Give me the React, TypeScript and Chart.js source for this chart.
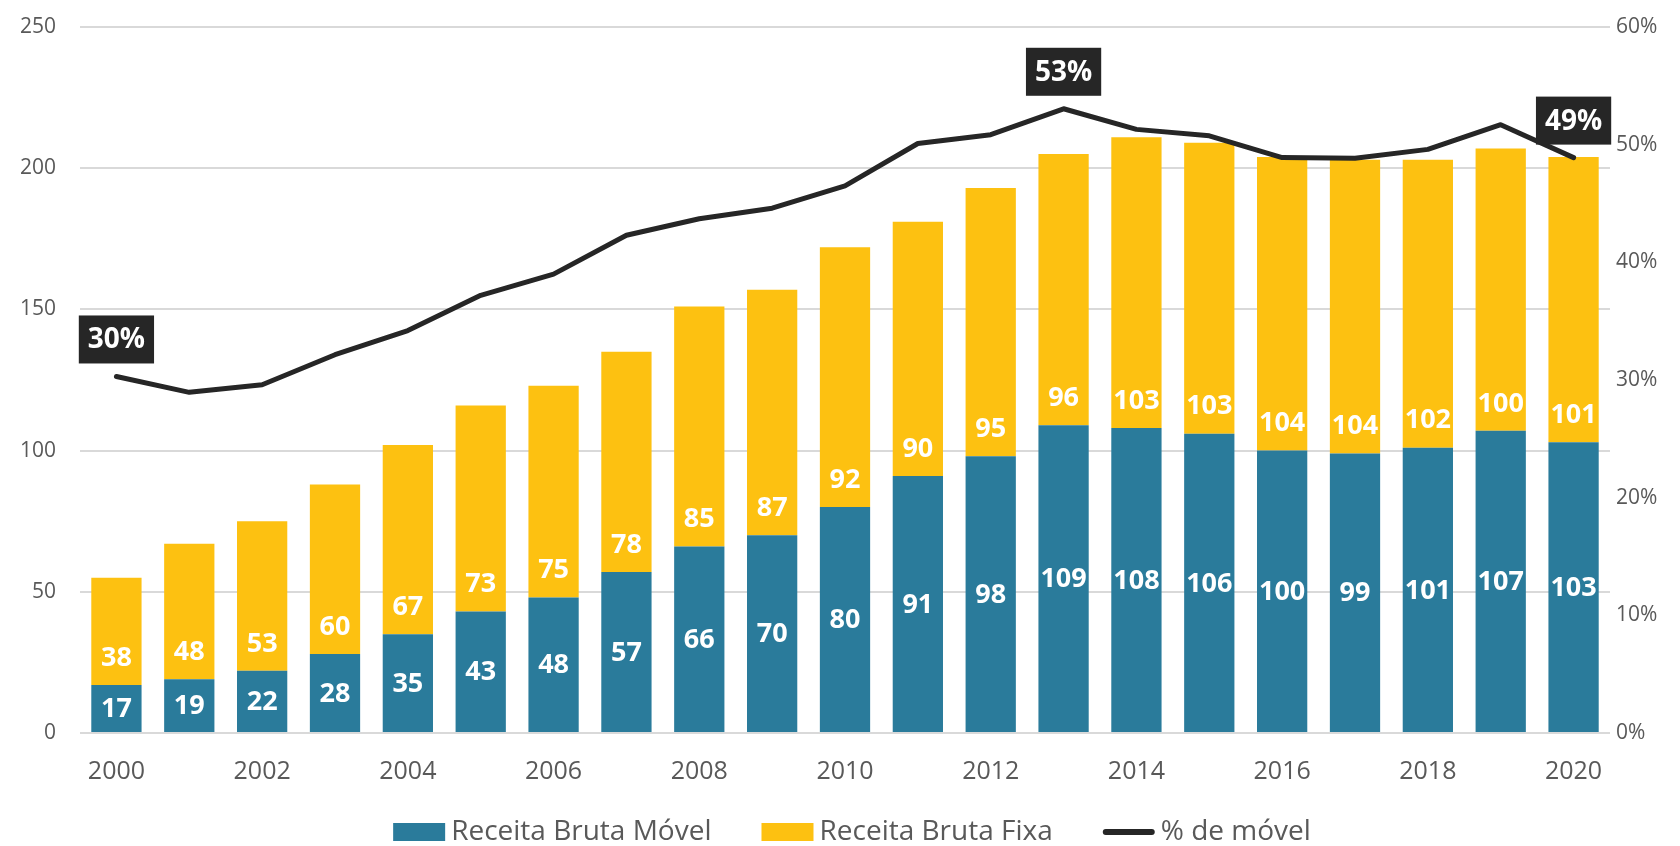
import React, { useEffect, useRef } from "react";
import { Chart, registerables } from "chart.js";

Chart.register(...registerables);

const years = [
  "2000", "2001", "2002", "2003", "2004", "2005", "2006", "2007", "2008", "2009", "2010",
  "2011", "2012", "2013", "2014", "2015", "2016", "2017", "2018", "2019", "2020",
];
const receitaMovel = [17, 19, 22, 28, 35, 43, 48, 57, 66, 70, 80, 91, 98, 109, 108, 106, 100, 99, 101, 107, 103];
const receitaFixa = [38, 48, 53, 60, 67, 73, 75, 78, 85, 87, 92, 90, 95, 96, 103, 103, 104, 104, 102, 100, 101];
const pctMovel = [
  30.3, 28.95, 29.6, 32.15, 34.2, 37.2, 39.0, 42.3, 43.7, 44.6, 46.5,
  50.1, 50.85, 53.05, 51.3, 50.75, 48.9, 48.85, 49.6, 51.7, 48.9,
];
const pctLabelIndex = [0, 13, 20];
const pctLabelText = ["30%", "53%", "49%"];
const leftTicks = [0, 50, 100, 150, 200, 250];
const rightTicks = [0, 10, 20, 30, 40, 50, 60];

const BLUE = "#2A7B9B";
const GOLD = "#FDC111";
const DARK = "#262626";
const GRID = "#D9D9D9";
const TICK = "#595959";
const FONT = "'Open Sans', 'DejaVu Sans', sans-serif";

const labelsPlugin = {
  id: "valueLabels",
  afterDatasetsDraw(chart: any) {
    const ctx = chart.ctx;
    ctx.save();
    ctx.textAlign = "center";
    ctx.textBaseline = "middle";
    ctx.fillStyle = "#FFFFFF";
    ctx.font = `bold 27px ${FONT}`;
    const m0 = chart.getDatasetMeta(0);
    m0.data.forEach((bar: any, i: number) => {
      const cy = (bar.y + bar.base) / 2;
      ctx.fillText(String(receitaMovel[i]), bar.x, cy + 1);
    });
    const m1 = chart.getDatasetMeta(1);
    m1.data.forEach((bar: any, i: number) => {
      ctx.fillText(String(receitaFixa[i]), bar.x, bar.base - 27);
    });
    const m2 = chart.getDatasetMeta(2);
    ctx.font = `bold 28px ${FONT}`;
    pctLabelIndex.forEach((idx, k) => {
      const pt = m2.data[idx];
      const txt = pctLabelText[k];
      const w = ctx.measureText(txt).width + 18;
      const h = 48;
      const bottom = pt.y - 13;
      ctx.fillStyle = DARK;
      ctx.fillRect(pt.x - w / 2, bottom - h, w, h);
      ctx.fillStyle = "#FFFFFF";
      ctx.fillText(txt, pt.x, bottom - h / 2 + 1);
    });
    ctx.restore();
  },
};

const legendPlugin = {
  id: "customLegend",
  afterDraw(chart: any) {
    const ctx = chart.ctx;
    ctx.save();
    ctx.font = `28px ${FONT}`;
    ctx.textBaseline = "middle";
    ctx.textAlign = "left";
    const items = [
      { text: "Receita Bruta Móvel", kind: "box", color: BLUE },
      { text: "Receita Bruta Fixa", kind: "box", color: GOLD },
      { text: "% de móvel", kind: "line", color: DARK },
    ];
    const boxW = 52;
    const gapText = 6;
    const gapItem = 50;
    const widths = items.map((it) => boxW + gapText + ctx.measureText(it.text).width);
    const total = widths.reduce((a, b) => a + b, 0) + gapItem * (items.length - 1);
    let x = 852 - total / 2;
    const cy = 832;
    items.forEach((it, i) => {
      if (it.kind === "box") {
        ctx.fillStyle = it.color;
        ctx.fillRect(x, cy - 9, boxW, 18);
      } else {
        ctx.strokeStyle = it.color;
        ctx.lineWidth = 6;
        ctx.lineCap = "round";
        ctx.beginPath();
        ctx.moveTo(x + 3, cy);
        ctx.lineTo(x + boxW - 3, cy);
        ctx.stroke();
      }
      ctx.fillStyle = TICK;
      ctx.fillText(it.text, x + boxW + gapText, cy);
      x += widths[i] + gapItem;
    });
    ctx.restore();
  },
};

export default function App() {
  const ref = useRef<HTMLCanvasElement | null>(null);

  useEffect(() => {
    if (!ref.current) return;
    const chart = new Chart(ref.current, {
      type: "bar",
      data: {
        labels: years,
        datasets: [
          {
            type: "bar",
            label: "Receita Bruta Móvel",
            data: receitaMovel,
            backgroundColor: BLUE,
            yAxisID: "y",
            order: 1,
            barPercentage: 0.69,
            categoryPercentage: 1,
          },
          {
            type: "bar",
            label: "Receita Bruta Fixa",
            data: receitaFixa,
            backgroundColor: GOLD,
            yAxisID: "y",
            order: 1,
            barPercentage: 0.69,
            categoryPercentage: 1,
          },
          {
            type: "line",
            label: "% de móvel",
            data: pctMovel,
            borderColor: DARK,
            borderWidth: 5,
            pointRadius: 0,
            tension: 0,
            yAxisID: "y1",
            order: 0,
            borderCapStyle: "round",
            borderJoinStyle: "round",
          } as any,
        ],
      },
      options: {
        responsive: false,
        animation: false,
        layout: { padding: { top: 27, bottom: 0, left: 0, right: 0 } },
        plugins: {
          legend: { display: false },
          tooltip: { enabled: false },
        },
        scales: {
          x: {
            stacked: true,
            grid: { display: false, drawTicks: false },
            border: { display: false },
            ticks: {
              autoSkip: false,
              maxRotation: 0,
              padding: 24,
              color: TICK,
              font: { family: FONT, size: 25 },
              callback: (_v: any, i: number) => (i % 2 === 0 ? years[i] : ""),
            },
            afterFit: (s: any) => {
              s.height = 113;
              s.paddingLeft = 0;
              s.paddingRight = 0;
            },
          },
          y: {
            stacked: true,
            position: "left",
            min: leftTicks[0],
            max: leftTicks[leftTicks.length - 1],
            afterBuildTicks: (s: any) => {
              s.ticks = leftTicks.map((v) => ({ value: v }));
            },
            grid: { color: GRID, lineWidth: 2, drawTicks: false },
            border: { display: false },
            ticks: {
              padding: 24,
              color: TICK,
              font: { family: FONT, size: 21 },
            },
            afterFit: (s: any) => {
              s.width = 80;
              s.paddingTop = 0;
              s.paddingBottom = 0;
            },
          },
          y1: {
            position: "right",
            min: rightTicks[0],
            max: rightTicks[rightTicks.length - 1],
            afterBuildTicks: (s: any) => {
              s.ticks = rightTicks.map((v) => ({ value: v }));
            },
            grid: { display: false, drawTicks: false },
            border: { display: false },
            ticks: {
              padding: 6,
              color: TICK,
              font: { family: FONT, size: 21 },
              callback: (v: any) => `${v}%`,
            },
            afterFit: (s: any) => {
              s.width = 70;
              s.paddingTop = 0;
              s.paddingBottom = 0;
            },
          },
        },
      } as any,
      plugins: [labelsPlugin, legendPlugin],
    });
    return () => chart.destroy();
  }, []);

  return (
    <div style={{ position: "fixed", left: 0, top: 0, width: 1680, height: 846, background: "#fff" }}>
      <canvas ref={ref} width={1680} height={846} style={{ display: "block", width: 1680, height: 846 }} />
    </div>
  );
}
